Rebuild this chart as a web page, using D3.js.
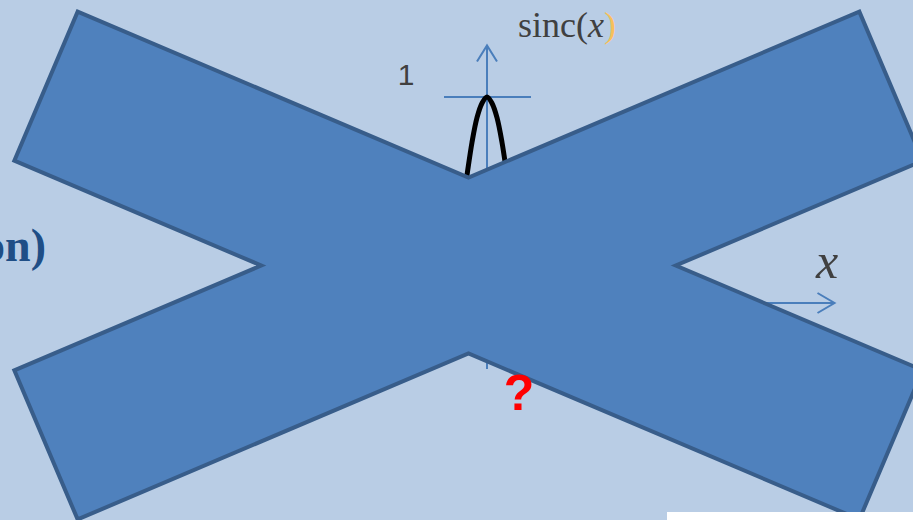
<!DOCTYPE html>
<html>
<head>
<meta charset="utf-8">
<script src="https://cdn.jsdelivr.net/npm/d3@7"></script>
<style>
    body { margin: 0; background: #b9cde5; overflow: hidden; }
    svg { display: block; }
</style>
</head>
<body>
<div id="chart"></div>
<script>

// sinc curve (x in axis units, y = sinc value)
let sincX = [-2.0, -1.6, -1.2, -0.8, -0.4, 0, 0.4, 0.8, 1.2, 1.6, 2.0];
let sincY = [0.45, 0.62, 0.78, 0.90, 0.97, 1.0, 0.97, 0.90, 0.78, 0.62, 0.45];

// axis labels
let yTickLabels = ["1"];
let yTickValues = [1];

// cross shape settings (angle in degrees, sizes in px)
let crossAngle = [23];
let crossHalfLength = [459];
let crossHalfWidth = [81];

let width = 913, height = 520;

let svg = d3.select("#chart").append("svg")
    .attr("width", width)
    .attr("height", height);

svg.append("rect")
    .attr("width", width)
    .attr("height", height)
    .attr("fill", "#b9cde5");

// scales for the sinc plot
let x = d3.scaleLinear().domain([-1, 1]).range([474.5, 499.5]);
let y = d3.scaleLinear().domain([0, 1]).range([303, 97]);

let axisColor = "#4a7ebb";

// vertical axis with arrow
let axisG = svg.append("g").attr("class", "axes")
    .attr("stroke", axisColor)
    .attr("stroke-width", 2)
    .attr("fill", "none");

axisG.append("line")
    .attr("x1", x(0)).attr("x2", x(0))
    .attr("y1", y(-0.32)).attr("y2", y(1.25));
axisG.append("polyline")
    .attr("points", [[x(0) - 10, y(1.25) + 16], [x(0), y(1.25)], [x(0) + 10, y(1.25) + 16]].join(" "));

// horizontal axis with arrow
axisG.append("line")
    .attr("x1", x(-10)).attr("x2", x(27.8))
    .attr("y1", y(0)).attr("y2", y(0));
axisG.append("polyline")
    .attr("points", [[x(27.8) - 17, y(0) - 10], [x(27.8), y(0)], [x(27.8) - 17, y(0) + 10]].join(" "));

// tick line at 1
axisG.selectAll(".tick-line")
    .data(yTickValues)
    .enter()
    .append("line")
    .attr("class", "tick-line")
    .attr("x1", x(0) - 43).attr("x2", x(0) + 44)
    .attr("y1", d => y(d)).attr("y2", d => y(d));

svg.selectAll(".tick-label")
    .data(yTickValues)
    .enter()
    .append("text")
    .attr("class", "tick-label")
    .attr("x", 406)
    .attr("y", d => y(d) - 12)
    .attr("text-anchor", "middle")
    .attr("font-family", "'Liberation Sans', Arial, sans-serif")
    .attr("font-size", 30)
    .attr("fill", "#404040")
    .text((d, i) => yTickLabels[i]);

// sinc curve
let sincData = sincX.map((v, i) => ({x: v, y: sincY[i]}));
let sincLine = d3.line()
    .x(d => x(d.x))
    .y(d => y(d.y))
    .curve(d3.curveCatmullRom);

svg.append("path")
    .datum(sincData)
    .attr("d", sincLine)
    .attr("fill", "none")
    .attr("stroke", "#000")
    .attr("stroke-width", 5);

// big cross drawn over the plot
let cx = 468.5, cy = 265.5;
let t = crossAngle[0] * Math.PI / 180;
let L = crossHalfLength[0], w = crossHalfWidth[0];
let c = Math.cos(t), s = Math.sin(t);

let crossPts = [
    [-L * c + w * s, -L * s - w * c],
    [0, -w / c],
    [L * c - w * s, -L * s - w * c],
    [L * c + w * s, -L * s + w * c],
    [w / s, 0],
    [L * c + w * s, L * s - w * c],
    [L * c - w * s, L * s + w * c],
    [0, w / c],
    [-L * c + w * s, L * s + w * c],
    [-L * c - w * s, L * s - w * c],
    [-w / s, 0],
    [-L * c - w * s, -L * s + w * c]
].map(p => [cx + p[0], cy + p[1]]);

svg.append("path")
    .attr("d", d3.line().curve(d3.curveLinearClosed)(crossPts))
    .attr("fill", "#4f81bd")
    .attr("stroke", "#385d8a")
    .attr("stroke-width", 4)
    .attr("stroke-linejoin", "miter");

// sinc(x) label
let sincLabel = svg.append("text")
    .attr("x", 518)
    .attr("y", 37)
    .attr("font-family", "'Liberation Serif', 'Times New Roman', serif")
    .attr("font-size", 36)
    .attr("fill", "#404040");
sincLabel.append("tspan").text("sinc(");
sincLabel.append("tspan").attr("font-style", "italic").text("x");
sincLabel.append("tspan").attr("fill", "#f6c05b").text(")");

// x label
svg.append("text")
    .attr("x", 827)
    .attr("y", 278)
    .attr("text-anchor", "middle")
    .attr("font-family", "'Liberation Serif', 'Times New Roman', serif")
    .attr("font-style", "italic")
    .attr("font-size", 50)
    .attr("fill", "#404040")
    .text("x");

// cut-off title text at the left
svg.append("text")
    .attr("x", 46)
    .attr("y", 261)
    .attr("text-anchor", "end")
    .attr("font-family", "'Liberation Serif', 'Times New Roman', serif")
    .attr("font-weight", "bold")
    .attr("font-size", 46)
    .attr("fill", "#1f4e86")
    .text("on)");

// red question mark
svg.append("text")
    .attr("x", 519)
    .attr("y", 410)
    .attr("text-anchor", "middle")
    .attr("font-family", "'Liberation Sans', Arial, sans-serif")
    .attr("font-weight", "bold")
    .attr("font-size", 50)
    .attr("fill", "#ff0000")
    .text("?");

// white strip at the bottom right
svg.append("rect")
    .attr("x", 667)
    .attr("y", 512)
    .attr("width", width - 667)
    .attr("height", 8)
    .attr("fill", "#fff");

</script>
</body>
</html>
